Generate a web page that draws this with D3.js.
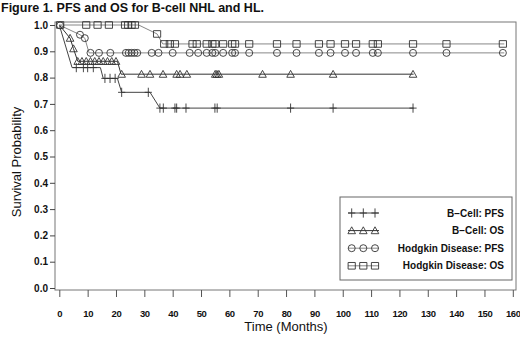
<!DOCTYPE html>
<head>
  <meta charset="utf-8">
  <script src="https://d3js.org/d3.v7.min.js"></script>
  <style>
    body { margin:0; background:#fff; }
    text { font-family: "Liberation Sans", Arial, sans-serif; fill:#111; }
  </style>
</head>
<body>
<svg width="520" height="344"></svg>
<script>

// Kaplan-Meier curves, joined points (months, survival)
const bPfsT = [0, 4.5, 14.5, 15.5, 20.5, 22, 32, 35.5, 125]
const bPfsS = [1, 0.838, 0.838, 0.797, 0.797, 0.744, 0.744, 0.684, 0.684]
const bOsT  = [0, 3.8, 5, 6.5, 20.5, 21.8, 125]
const bOsS  = [1, 0.95, 0.91, 0.862, 0.862, 0.813, 0.813]
const hPfsT = [0, 7.3, 9, 10.5, 157]
const hPfsS = [1, 0.963, 0.95, 0.894, 0.894]
const hOsT  = [0, 28, 34.5, 36.5, 157]
const hOsS  = [1, 1, 0.966, 0.928, 0.928]

// censored times
const bPfsC = [6, 8.5, 10, 12, 16.1, 17.9, 19.7, 22, 31.4, 35.5, 36.7, 40.8, 41.4, 44.7, 54.9, 55.7, 81.6, 96.6, 124.8]
const bOsC  = [3.8, 5, 6.5, 8, 9.5, 11, 12.5, 14, 15.5, 17, 18.5, 20, 22, 29, 32, 36.6, 41.4, 42.6, 45, 55, 55.6, 56.3, 71.7, 81.6, 96.6, 124.8]
const hPfsC = [0.3, 7.3, 9, 11, 14, 18, 23.5, 24.5, 25.5, 26.5, 27.5, 32.6, 35, 40, 46, 49, 52, 54, 55, 57.8, 61, 62, 67, 76.8, 83.7, 91.6, 95.7, 100.8, 104.7, 110.6, 112.4, 124.8, 136.6, 156.5]
const hOsC  = [0.3, 9.5, 13.5, 17.5, 23.2, 24.3, 25.5, 26.7, 34.5, 37, 39, 40.8, 47, 48.5, 52, 54, 55, 57.8, 61, 62, 67, 76.8, 83.7, 91.6, 95.7, 100.8, 104.7, 110.6, 112.4, 124.8, 136.6, 156.5]

const legendLabels = ["B\u2212Cell: PFS", "B\u2212Cell: OS", "Hodgkin Disease: PFS", "Hodgkin Disease: OS"]
const xTicks = d3.range(0, 161, 10)
const yTicks = d3.range(0, 1.01, 0.1)

const svg = d3.select("svg")
const x = d3.scaleLinear().domain([0, 160]).range([59.3, 512.8])
const y = d3.scaleLinear().domain([0, 1]).range([288, 25])

const shapes = {
  plus: "M-3.6,0H3.6M0,-4.6V4.6",
  tri: "M-3.8,3.1L0,-3.8L3.8,3.1Z",
  circ: "M3.5,0A3.5,3.5 0 1,1 -3.5,0A3.5,3.5 0 1,1 3.5,0Z",
  sq: "M-3.6,-3.3H3.6V3.3H-3.6Z"
}

const series = [
  {t: bPfsT, s: bPfsS, c: bPfsC, shape: "plus", col: "#444"},
  {t: bOsT,  s: bOsS,  c: bOsC,  shape: "tri",  col: "#333"},
  {t: hPfsT, s: hPfsS, c: hPfsC, shape: "circ", col: "#888"},
  {t: hOsT,  s: hOsS,  c: hOsC,  shape: "sq",   col: "#888"}
]

// title
svg.append("text").attr("x", 1).attr("y", 12)
  .style("font-size", "12.5px").style("font-weight", "bold")
  .text("Figure 1.  PFS and OS for B-cell NHL and HL.")

// frame
svg.append("rect").attr("x", 55).attr("y", 22).attr("width", 461).attr("height", 268)
  .attr("fill", "none").attr("stroke", "#777")

// y axis
const yAx = svg.append("g").attr("transform", "translate(55,0)")
yAx.call(d3.axisLeft(y).tickValues(d3.range(0.05, 1, 0.1)).tickSize(3).tickFormat(""))
yAx.call(d3.axisLeft(y).tickValues(yTicks).tickSize(5).tickPadding(2).tickFormat(d3.format(".1f")))
yAx.selectAll("path").remove()
yAx.selectAll("line").attr("stroke", "#444")
yAx.selectAll("text").style("font-size", "10px").style("font-weight", "bold").attr("fill", "#111")

// x axis
const xAx = svg.append("g").attr("transform", "translate(0,290)")
xAx.call(d3.axisBottom(x).tickValues(d3.range(0, 161, 2)).tickSize(4).tickFormat(""))
xAx.call(d3.axisBottom(x).tickValues(xTicks).tickSize(7).tickPadding(13))
xAx.selectAll("path").remove()
xAx.selectAll("line").attr("stroke", "#555")
xAx.selectAll("text").style("font-size", "9.5px").style("font-weight", "bold")
  .style("letter-spacing", "-0.4px").attr("fill", "#111")

svg.append("text").attr("x", 286).attr("y", 331).attr("text-anchor", "middle")
  .style("font-size", "13px").text("Time  (Months)")
svg.append("text").attr("transform", "translate(21,162) rotate(-90)").attr("text-anchor", "middle")
  .style("font-size", "13px").text("Survival  Probability")

// curves
const line = d3.line().x(d => x(d[0])).y(d => y(d[1]))
function valueAt(sr, t) {
  for (let i = 1; i < sr.t.length; i++) {
    if (t <= sr.t[i]) {
      const f = (t - sr.t[i-1]) / (sr.t[i] - sr.t[i-1])
      return sr.s[i-1] + f * (sr.s[i] - sr.s[i-1])
    }
  }
  return sr.s[sr.s.length - 1]
}

series.forEach(sr => {
  svg.append("path").datum(sr.t.map((t, i) => [t, sr.s[i]]))
    .attr("d", line).attr("fill", "none").attr("stroke", sr.col).attr("stroke-width", 1)
  svg.append("g").selectAll("path").data(sr.c).join("path")
    .attr("transform", d => `translate(${x(d)},${y(valueAt(sr, d))})`)
    .attr("d", shapes[sr.shape]).attr("fill", "none").attr("stroke", "#333").attr("stroke-width", 0.9)
})

// legend
const lg = svg.append("g")
lg.append("rect").attr("x", 340).attr("y", 197).attr("width", 172).attr("height", 83)
  .attr("fill", "#fff").attr("stroke", "#666")
series.forEach((sr, i) => {
  const yy = 213 + i * 17.6
  lg.append("line").attr("x1", 348).attr("x2", 379).attr("y1", yy).attr("y2", yy)
    .attr("stroke", sr.col)
  ;[351.7, 363.3, 375].forEach(px => lg.append("path")
    .attr("transform", `translate(${px},${yy})`).attr("d", shapes[sr.shape])
    .attr("fill", "none").attr("stroke", "#333").attr("stroke-width", 0.9))
  lg.append("text").attr("x", 504).attr("y", yy).attr("dy", "0.35em").attr("text-anchor", "end")
    .style("font-size", "10px").style("font-weight", "bold").text(legendLabels[i])
})

</script>
</body>
